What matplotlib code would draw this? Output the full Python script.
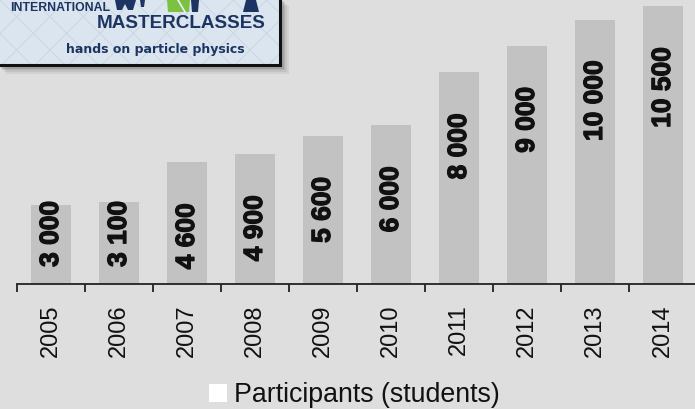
import matplotlib
matplotlib.use("Agg")
import matplotlib.pyplot as plt
import matplotlib.patheffects as pe
from matplotlib.patches import Rectangle, Polygon, Patch
import numpy as np

plt.rcParams['font.family'] = ['Liberation Sans', 'DejaVu Sans']
plt.rcParams['hatch.linewidth'] = 0.6

years = ["2005", "2006", "2007", "2008", "2009", "2010", "2011", "2012", "2013", "2014"]
participants = [3000, 3100, 4600, 4900, 5600, 6000, 8000, 9000, 10000, 10500]
series_name = "Participants (students)"

W, H = 695, 409
bg = "#dedede"
bar_col = "#c2c2c2"
navy = "#1c3461"

fig = plt.figure(figsize=(W / 100, H / 100), dpi=100, facecolor=bg)

# main chart area (pixel boxes converted to figure fractions)
ax = fig.add_axes([17 / W, 1 - 284 / H, 680 / W, 284 / H])
ax.set_facecolor("none")
x = np.arange(len(years))
ax.bar(x, participants, width=0.59, color=bar_col, zorder=2)
ax.set_xlim(-0.5, len(years) - 0.5)
ax.set_ylim(0, 10740)

for s in ["top", "left", "right"]:
    ax.spines[s].set_visible(False)
ax.spines["bottom"].set_color("#222222")
ax.spines["bottom"].set_linewidth(1.3)
ax.set_yticks([])
ax.set_xticks(x)
ax.set_xticklabels(years, rotation=90, fontsize=17, color="#111111")
ax.set_xticks(np.arange(-0.5, len(years)), minor=True)
ax.tick_params(axis="x", which="major", length=0, pad=14.5)
ax.tick_params(axis="x", which="minor", length=5.5, width=1.3, color="#222222", direction="out")

# value labels: near the top of tall bars, pushed up from the base on short ones
top_gap = 1550
base_gap = 645
heavy = [pe.withStroke(linewidth=0.9, foreground="#111111")]
for xi, v in zip(x, participants):
    lbl = f"{v:,}".replace(",", " ")
    if v - top_gap - len(lbl) * 480 < base_gap:
        ypos, va = base_gap, "bottom"
    else:
        ypos, va = v - top_gap, "top"
    ax.text(xi, ypos, lbl, rotation=90, ha="center", va=va, fontsize=19,
            fontweight="bold", color="#111111", zorder=3, path_effects=heavy)

fig.legend(handles=[Patch(facecolor="white", edgecolor="none")], labels=[series_name],
           loc="center", bbox_to_anchor=(354 / W, 1 - 395 / H), frameon=False,
           fontsize=19.3, handlelength=0.68, handleheight=0.66, handletextpad=0.25,
           borderpad=0, labelcolor="#111111")

# logo box in the corner
lg = fig.add_axes([0, 1 - 82 / H, 300 / W, 82 / H])
lg.set_xlim(0, 300)
lg.set_ylim(82, 0)
lg.axis("off")
for i, a in enumerate([0.08, 0.10, 0.12, 0.15]):
    d = 8 - i * 1.8
    lg.add_patch(Rectangle((-2 + d, -2 + d), 283, 68, facecolor="#444444",
                           edgecolor="none", alpha=a, zorder=1))
lg.add_patch(Rectangle((-2, -2), 282, 67, facecolor="#dbe5ef", edgecolor="none", zorder=2))
lg.add_patch(Rectangle((-2, -2), 282, 67, facecolor="none", edgecolor="#c8d4e1",
                       hatch="x", lw=0, zorder=3))
lg.add_patch(Rectangle((-2, -2), 282, 67, facecolor="none", edgecolor="#111111",
                       lw=2.2, zorder=6))

lg.text(10, 8, "INTERNATIONAL", fontsize=8.8, fontweight="bold", color=navy,
        ha="left", va="center", zorder=5)
lg.text(97, 23.5, "MASTERCLASSES", fontsize=13.6, fontweight="bold", color=navy,
        ha="left", va="center", zorder=5)
lg.text(155, 49.5, "hands on particle physics", fontsize=9.0, color=navy,
        ha="center", va="center", zorder=5, family=["DejaVu Sans"], fontweight="semibold")

# feet of the little figures above the lettering
shapes = [
    ([(115, 0), (136, 0), (133, 10), (128, 10), (125, 4), (122, 10), (117, 10)], navy),
    ([(140, 0), (145, 0), (144, 7), (141, 7)], navy),
    ([(167, 0), (190, 0), (189, 12), (168, 12)], "#7cc142"),
    ([(191, 0), (199, 0), (198, 12), (192, 12)], navy),
    ([(246, 0), (256, 0), (259, 12), (243, 12)], navy),
]
for pts, col in shapes:
    lg.add_patch(Polygon(pts, closed=True, facecolor=col, edgecolor="none", zorder=4))
lg.plot([178, 185], [0, 12], color="#eef3f8", lw=1.2, zorder=5)

fig.savefig("out.png", dpi=100, facecolor=bg)
